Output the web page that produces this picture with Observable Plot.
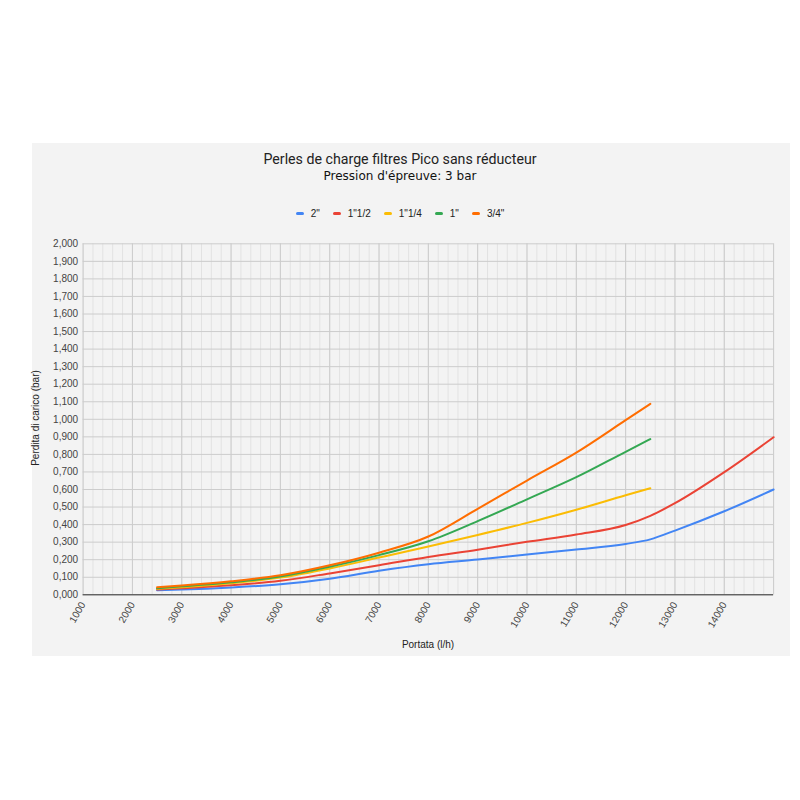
<!DOCTYPE html>
<html><head><meta charset="utf-8">
<script src="https://cdn.jsdelivr.net/npm/d3@7"></script>
<script src="https://cdn.jsdelivr.net/npm/@observablehq/plot@0.6"></script>
<style>
body{margin:0;background:#fff;}
#wrap{position:relative;width:800px;height:800px;font-family:"Liberation Sans",Arial,sans-serif;overflow:hidden;}
#panel{position:absolute;left:32px;top:143px;width:758px;height:513px;background:#f3f3f3;}
#title{position:absolute;left:0;width:800px;top:151px;text-align:center;font-family:Roboto,"Open Sans",sans-serif;font-size:14.2px;color:#222;}
#subtitle{position:absolute;left:0;width:800px;top:169px;text-align:center;font-family:"DejaVu Sans",sans-serif;font-size:12px;color:#111;}
#legend{position:absolute;left:0;width:800px;top:208px;text-align:center;font-size:10px;color:#222;white-space:nowrap;}
#legend span.item{display:inline-block;margin:0 6.5px;}
#legend span.sw{display:inline-block;width:8px;height:3px;border-radius:2px;vertical-align:middle;margin-right:7px;position:relative;top:-1px;}
#chart{position:absolute;left:0;top:0;}
#ytitle{position:absolute;left:35px;top:418px;transform:translate(-50%,-50%) rotate(-90deg);font-size:10px;color:#222;white-space:nowrap;}
#xtitle{position:absolute;left:428px;top:639px;transform:translateX(-50%);font-size:10px;color:#222;white-space:nowrap;}
</style>
</head><body>
<div id="wrap">
  <div id="panel"></div>
  <div id="title">Perles de charge filtres Pico sans réducteur</div>
  <div id="subtitle">Pression d'épreuve: 3 bar</div>
  <div id="legend"></div>
  <div id="chart"></div>
  <div id="ytitle">Perdita di carico (bar)</div>
  <div id="xtitle">Portata (l/h)</div>
</div>
<script>
// Flow (l/h)
const flow = [2500, 3000, 4000, 5000, 6000, 7000, 8000, 9000, 10000, 11000, 12000, 12500, 13000, 14000, 15000];
const seriesNames = ['2"', '1"1/2', '1"1/4', '1"', '3/4"'];
const seriesColors = ["#4285F4", "#EA4335", "#FBBC04", "#34A853", "#FF6D01"];
const s2 =    [0.026, 0.030, 0.042, 0.060, 0.092, 0.137, 0.174, 0.201, 0.230, 0.258, 0.290, 0.316, 0.366, 0.476, 0.600];
const s1_12 = [0.030, 0.037, 0.054, 0.080, 0.122, 0.168, 0.216, 0.257, 0.302, 0.344, 0.398, 0.450, 0.522, 0.699, 0.898];
const s1_14 = [0.034, 0.043, 0.066, 0.098, 0.150, 0.212, 0.275, 0.341, 0.410, 0.485, 0.567, 0.607];
const s1 =    [0.038, 0.048, 0.071, 0.104, 0.160, 0.226, 0.305, 0.420, 0.544, 0.670, 0.815, 0.887];
const s34 =   [0.043, 0.053, 0.077, 0.111, 0.168, 0.240, 0.332, 0.490, 0.651, 0.810, 0.995, 1.088];
const xTickLabels = [1000, 2000, 3000, 4000, 5000, 6000, 7000, 8000, 9000, 10000, 11000, 12000, 13000, 14000];
const yTickValues = [0, 0.1, 0.2, 0.3, 0.4, 0.5, 0.6, 0.7, 0.8, 0.9, 1.0, 1.1, 1.2, 1.3, 1.4, 1.5, 1.6, 1.7, 1.8, 1.9, 2.0];

const allSeries = [s2, s1_12, s1_14, s1, s34];
const rows = [];
allSeries.forEach((vals, i) => vals.forEach((v, j) => rows.push({x: flow[j], y: v, s: seriesNames[i]})));

// legend
const leg = document.getElementById("legend");
seriesNames.forEach((n, i) => {
  const it = document.createElement("span"); it.className = "item";
  const sw = document.createElement("span"); sw.className = "sw"; sw.style.background = seriesColors[i];
  it.appendChild(sw); it.appendChild(document.createTextNode(n));
  leg.appendChild(it);
});

const minorX = d3.range(1000, 15001, 200);
const majorX = d3.range(1000, 15001, 1000);
const fmtY = d => d3.format(".3f")(d).replace(".", ",");

const chart = Plot.plot({
  width: 800, height: 800,
  marginLeft: 82.6, marginRight: 26.9, marginTop: 243.3, marginBottom: 205.7,
  style: {background: "transparent", fontFamily: "'Liberation Sans', Arial, sans-serif", fontSize: "10px", color: "#444"},
  x: {domain: [1000, 15000]},
  y: {domain: [0, 2]},
  color: {domain: seriesNames, range: seriesColors},
  marks: [
    Plot.gridX(minorX, {stroke: "#e2e2e2", strokeOpacity: 1, strokeWidth: 1}),
    Plot.gridX(majorX, {stroke: "#cccccc", strokeOpacity: 1, strokeWidth: 1}),
    Plot.gridY(yTickValues, {stroke: "#cccccc", strokeOpacity: 1, strokeWidth: 1}),
    Plot.axisY(yTickValues, {tickFormat: fmtY, tickSize: 0, tickPadding: 5, label: null, fill: "#444"}),
    Plot.axisX(xTickLabels, {tickFormat: d => String(d), tickSize: 0, tickPadding: 8, tickRotate: -60, label: null, fill: "#444"}),
    Plot.ruleY([0], {stroke: "#333", strokeWidth: 1}),
    Plot.line(rows, {x: "x", y: "y", z: "s", stroke: "s", strokeWidth: 2, curve: "monotone-x"})
  ]
});
document.getElementById("chart").appendChild(chart);
</script>
</body></html>
